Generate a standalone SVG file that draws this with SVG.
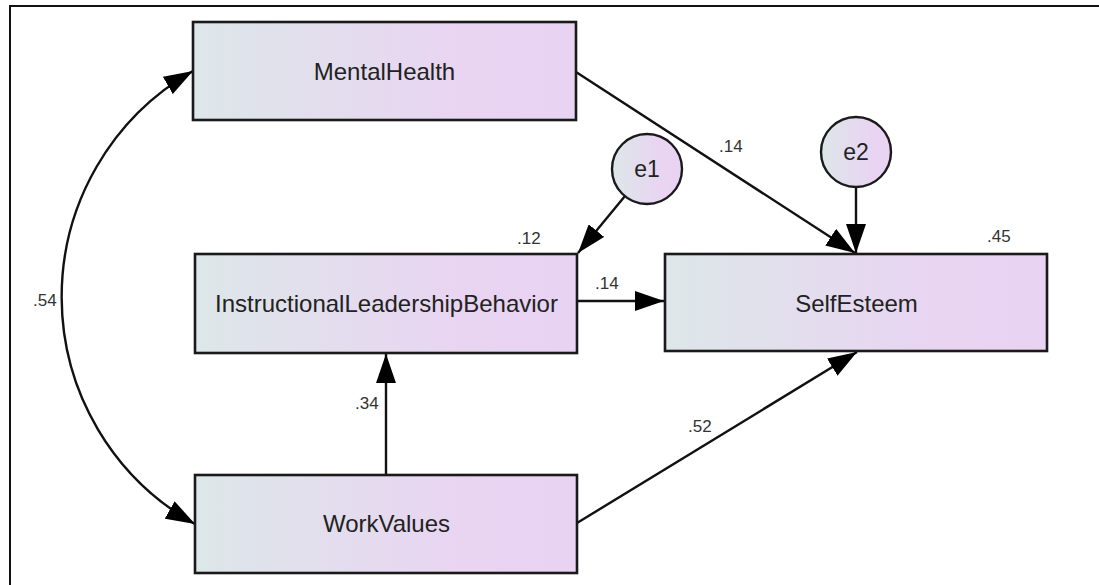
<svg xmlns="http://www.w3.org/2000/svg" width="1099" height="585" viewBox="0 0 1099 585">
<style>
.box{stroke:#1a1a1a;stroke-width:2.6;fill:url(#g)}
.err{stroke:#1a1a1a;stroke-width:2.4;fill:url(#g)}
.lbl{font-family:"Liberation Sans",Arial,sans-serif;font-size:24px;fill:#222;text-anchor:middle}
.num{font-family:"Liberation Sans",Arial,sans-serif;font-size:17px;fill:#333}
.ln{stroke:#111;stroke-width:2.4;fill:none;marker-end:url(#ah)}
.frame{stroke:#111;stroke-width:2;fill:none}
</style>
<defs>
<linearGradient id="g" x1="0" y1="0" x2="1" y2="0">
<stop offset="0" stop-color="#dde7e9"/>
<stop offset="0.72" stop-color="#e9d4f2"/>
<stop offset="1" stop-color="#e9d3f3"/>
</linearGradient>
<marker id="ah" markerUnits="userSpaceOnUse" markerWidth="30" markerHeight="20" refX="29" refY="10" orient="auto-start-reverse" viewBox="0 0 30 20">
<path d="M0,0 L29,10 L0,20 z" fill="#000"/>
</marker>
</defs>
<rect width="1099" height="585" fill="#fff"/>
<path class="frame" d="M10,585 V6 H1099"/>

<g id="connectors">
<path class="ln" d="M576,72 L855,253"/>
<path class="ln" d="M856,187 L856,253"/>
<path class="ln" d="M625,196 L578,253"/>
<path class="ln" d="M577,301 L664,301"/>
<path class="ln" d="M386,475 L386,354"/>
<path class="ln" d="M577,523 L857,352"/>
<path class="ln" style="marker-start:url(#ah)" d="M193,71 A260,260 0 0 0 195,524"/>
</g>

<g id="labels">
<text class="num" x="33" y="306">.54</text>
<text class="num" x="719" y="152">.14</text>
<text class="num" x="517" y="244">.12</text>
<text class="num" x="595" y="289">.14</text>
<text class="num" x="987" y="242">.45</text>
<text class="num" x="355" y="409">.34</text>
<text class="num" x="688" y="432">.52</text>
</g>

<g id="MentalHealth">
<rect class="box" x="193" y="22" width="383" height="98"/>
<text class="lbl" x="384.5" y="80">MentalHealth</text>
</g>
<g id="InstructionalLeadershipBehavior">
<rect class="box" x="195" y="254" width="382" height="99"/>
<text class="lbl" x="386.5" y="312">InstructionalLeadershipBehavior</text>
</g>
<g id="WorkValues">
<rect class="box" x="195" y="475" width="382" height="98"/>
<text class="lbl" x="386.5" y="532">WorkValues</text>
</g>
<g id="SelfEsteem">
<rect class="box" x="665" y="254" width="382" height="97"/>
<text class="lbl" x="856.5" y="312">SelfEsteem</text>
</g>
<g id="e1">
<circle class="err" cx="647" cy="169" r="35"/>
<text class="lbl" x="647" y="177" style="font-size:23px">e1</text>
</g>
<g id="e2">
<circle class="err" cx="856" cy="152" r="35"/>
<text class="lbl" x="856" y="160" style="font-size:23px">e2</text>
</g>
</svg>
